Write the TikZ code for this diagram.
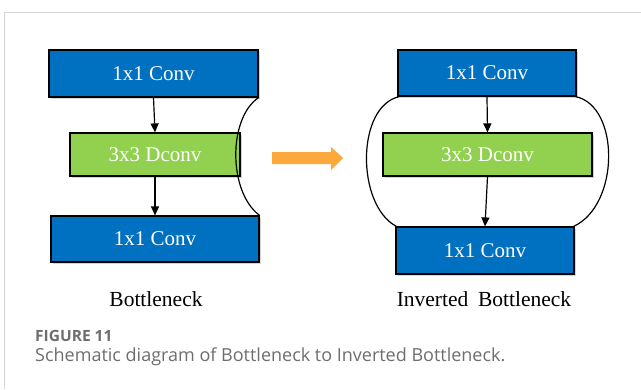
\documentclass[tikz,border=0pt]{standalone}
\usepackage{fontspec}
\setmainfont{Liberation Serif}
\newfontfamily\capfont{Open Sans}
\usetikzlibrary{arrows.meta,shadows}
\definecolor{convblue}{HTML}{0070C0}
\definecolor{dwgreen}{HTML}{92D050}
\definecolor{arroworange}{HTML}{FBA83C}
\definecolor{framegray}{HTML}{D6D6D6}
\definecolor{captiongray}{HTML}{6E6E6E}
\tikzset{
  layer/.style={draw=black, line width=1.2pt, inner sep=0pt, text=white,
    font=\fontsize{21}{23}\selectfont,
    drop shadow={shadow xshift=2pt, shadow yshift=-2pt, fill=black!45, opacity=0.35}},
  conv/.style={layer, fill=convblue},
  dconv/.style={layer, fill=dwgreen},
  flow/.style={line width=1.2pt, -{Triangle[length=9pt,width=8pt]}},
  skip/.style={line width=1.2pt},
  title/.style={font=\fontsize{21.5}{24}\selectfont, text=black}
}
\begin{document}
\begin{tikzpicture}[x=1pt,y=-1pt]
\useasboundingbox (0,0) rectangle (641,389);
\fill[white] (0,0) rectangle (641,389);
% panel frame
\draw[framegray, line width=1pt] (4,389) -- (4,12) -- (641,12);

% bottleneck block
\node[conv, minimum width=209pt, minimum height=47pt] (b1) at (153.5,73.5) {1x1 Conv};
\node[dconv, minimum width=170pt, minimum height=43pt] (b2) at (155,154.5) {3x3 Dconv};
\node[conv, minimum width=208pt, minimum height=46pt] (b3) at (155,239) {1x1 Conv};
\draw[flow] (b1.south) -- (b2.north);
\draw[flow] (b2.south) -- (b3.north);
\draw[skip] (b1.south east) .. controls (228,118) and (228,192) .. (b3.north east);
\node[title] (bt) at (156,299) {Bottleneck};

% transition arrow
\coordinate (oa) at (272,158);
\fill[arroworange] (oa) ++(0,-6) -- ++(59,0) -- ++(0,-5) -- (343,158) -- (331,170) -- (331,164) -- (272,164) -- cycle;

% inverted bottleneck block
\node[conv, minimum width=178pt, minimum height=46pt] (i1) at (487,73) {1x1 Conv};
\node[dconv, minimum width=209pt, minimum height=43pt] (i2) at (487.5,154.5) {3x3 Dconv};
\node[conv, minimum width=178pt, minimum height=47pt] (i3) at (485,250.5) {1x1 Conv};
\draw[flow] (i1.south) -- (i2.north);
\draw[flow] (i2.south) -- (i3.north);
\draw[skip] ([xshift=2pt]i1.south west) .. controls (356,106) and (356,205) .. ([xshift=1pt]i3.north west);
\draw[skip] ([xshift=-1pt]i1.south east) .. controls (620,106) and (620,205) .. ([xshift=-1pt]i3.north east);
\node[title] (it) at (484,299) {Inverted\hspace{0.45em}Bottleneck};

% caption
\node[anchor=west, inner sep=0pt, text=captiongray, font=\capfont\fontsize{15.5}{18}\selectfont\bfseries] (fig) at (35,336) {FIGURE 11};
\node[anchor=west, inner sep=0pt, text=captiongray, font=\capfont\fontsize{18}{21}\selectfont] (cap) at (35,357) {Schematic diagram of Bottleneck to Inverted Bottleneck.};
\end{tikzpicture}
\end{document}
